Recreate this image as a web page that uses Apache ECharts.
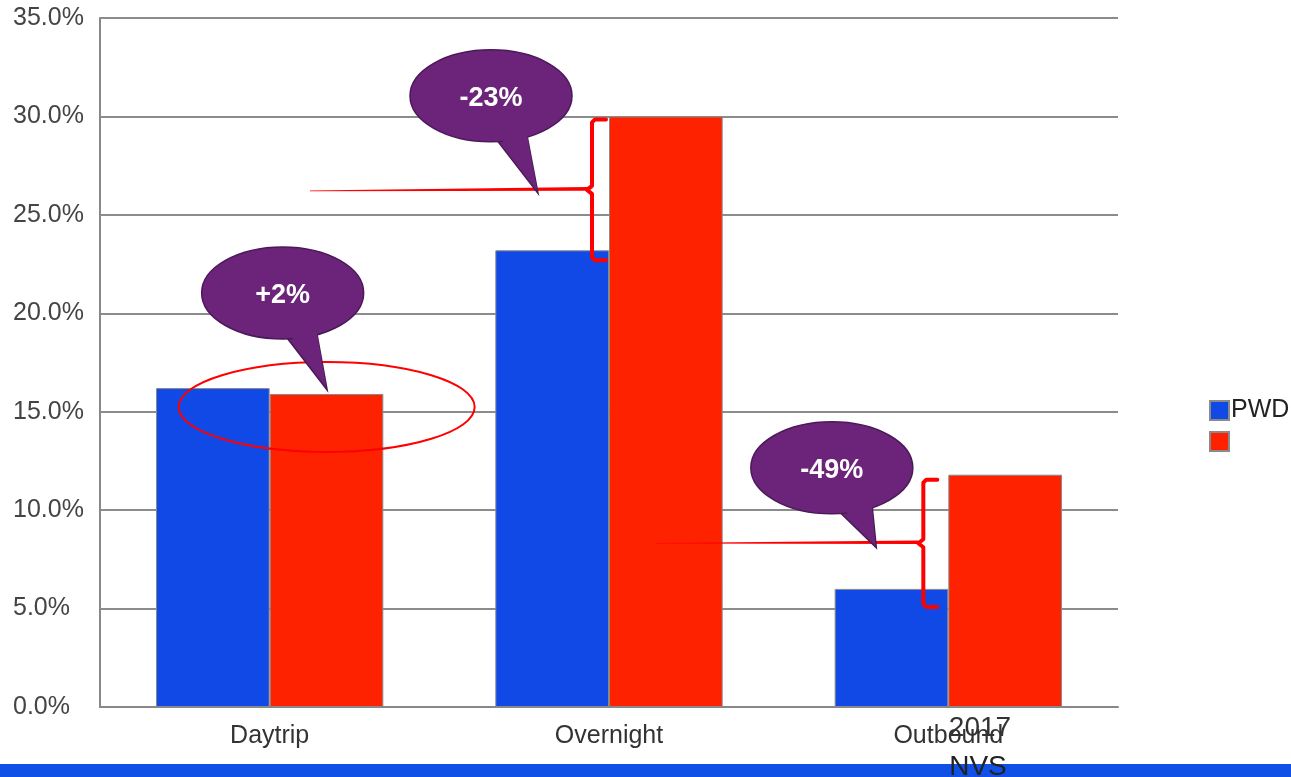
<!DOCTYPE html>
<html>
<head>
<meta charset="utf-8">
<script src="https://cdn.jsdelivr.net/npm/echarts@6/dist/echarts.min.js"></script>
<style>
html,body{margin:0;padding:0;background:#fff;}
#c{width:1291px;height:777px;}
</style>
</head>
<body>
<div id="c"></div>
<script>
var categories = ['Daytrip', 'Overnight', 'Outbound'];
var seriesNames = ['PWD', ' '];
var pwdValues = [16.2, 23.2, 6.0];
var nvsValues = [15.9, 30.0, 11.8];
var changeLabels = ['+2%', '-23%', '-49%'];
var yTicks = [0, 5, 10, 15, 20, 25, 30, 35];

var FONT = '"Liberation Sans", Arial, sans-serif';
var BLUE = '#1049e6';
var RED = '#ff2200';
var PURPLE = '#6b2479';
var PURPLE_DARK = '#4b1858';
var LINE_RED = '#ff0000';

var chart = echarts.init(document.getElementById('c'), null, {renderer: 'canvas'});

chart.setOption({
  animation: false,
  backgroundColor: '#ffffff',
  grid: {left: 100, right: 173, top: 18, bottom: 70, containLabel: false},
  legend: {
    orient: 'vertical',
    left: 1204,
    top: 393,
    itemWidth: 19,
    itemHeight: 19,
    itemGap: 6,
    icon: 'rect',
    data: seriesNames,
    textStyle: {fontFamily: FONT, fontSize: 25, color: '#222', padding: [0, 0, 0, -3]}
  },
  xAxis: {
    type: 'category',
    data: categories,
    axisLine: {show: true, lineStyle: {color: '#888', width: 2}},
    axisTick: {show: false},
    axisLabel: {fontFamily: FONT, fontSize: 25, color: '#333', margin: 17}
  },
  yAxis: {
    type: 'value',
    min: yTicks[0],
    max: yTicks[yTicks.length - 1],
    interval: 5,
    axisLine: {show: true, lineStyle: {color: '#888', width: 2}},
    axisTick: {show: false},
    splitLine: {show: true, lineStyle: {color: '#8c8c8c', width: 2}},
    axisLabel: {
      fontFamily: FONT, fontSize: 25, color: '#444', margin: 87, align: 'left',
      padding: [4, 0, 0, 0],
      formatter: function (v) { return v.toFixed(1) + '%'; }
    }
  },
  series: [
    {
      name: seriesNames[0], type: 'bar', data: pwdValues,
      barGap: '0%', barCategoryGap: '33%',
      itemStyle: {color: BLUE, borderColor: '#8a8a8a', borderWidth: 1}
    },
    {
      name: seriesNames[1], type: 'bar', data: nvsValues,
      barGap: '0%', barCategoryGap: '33%',
      itemStyle: {color: RED, borderColor: '#8a8a8a', borderWidth: 1}
    }
  ]
});

function px(i, v) { return chart.convertToPixel({gridIndex: 0}, [i, v]); }

function bubble(cx, cy, text, base1, base2, tip) {
  var tail = [[cx + base1[0], cy + base1[1]], [cx + base2[0], cy + base2[1]], [cx + tip[0], cy + tip[1]]];
  return [
    {type: 'polygon', z: 100, shape: {points: tail}, style: {fill: PURPLE, stroke: PURPLE_DARK, lineWidth: 1.5}},
    {type: 'ellipse', z: 101, shape: {cx: cx, cy: cy, rx: 81, ry: 46}, style: {fill: PURPLE, stroke: PURPLE_DARK, lineWidth: 1.5}},
    {type: 'polygon', z: 102, shape: {points: [[tail[0][0] + 1, tail[0][1] - 6], [tail[1][0] - 1, tail[1][1] - 6], [tail[2][0] - 1, tail[2][1] - 4]]}, style: {fill: PURPLE}},
    {type: 'text', z: 103, style: {text: text, x: cx, y: cy + 3, align: 'center', verticalAlign: 'middle', fill: '#ffffff', font: 'bold 27px ' + FONT}}
  ];
}

function taperLine(x0, y0, x1, y1) {
  return {type: 'polygon', z: 90, shape: {points: [[x0, y0 - 0.3], [x1, y1 - 1.8], [x1, y1 + 1.8], [x0, y0 + 0.3]]}, style: {fill: LINE_RED}};
}

function bracket(vx, top, bottom, capX, nubX) {
  var mid = (top + bottom) / 2;
  return {
    type: 'polyline', z: 95,
    shape: {points: [[capX, top], [vx + 3, top], [vx, top + 3], [vx, mid - 4], [nubX, mid], [vx, mid + 4], [vx, bottom - 3], [vx + 3, bottom], [capX, bottom]], smooth: 0},
    style: {stroke: LINE_RED, lineWidth: 4, fill: null, lineJoin: 'round', lineCap: 'round'}
  };
}

var g = [];

// Daytrip: +2% with red ellipse
var d = px(0, nvsValues[0]);
g.push({type: 'ellipse', z: 90, shape: {cx: d[0] + 57, cy: d[1] + 13, rx: 148, ry: 45}, style: {fill: null, stroke: LINE_RED, lineWidth: 2}});
g = g.concat(bubble(d[0] + 13, d[1] - 101, changeLabels[0], [4.5, 45], [34.5, 42], [44.5, 97]));

// Overnight: -23%
var oTop = px(1, nvsValues[1]);
var oBot = px(1, pwdValues[1]);
var ocx = oTop[0];
var oMid = (oTop[1] + 3 + oBot[1] + 10) / 2;
g.push(bracket(ocx - 17, oTop[1] + 3, oBot[1] + 10, ocx - 3, ocx - 22));
g.push(taperLine(ocx - 299, oMid + 1, ocx - 22, oMid - 1));
g = g.concat(bubble(ocx - 118, oMid - 94, changeLabels[1], [6, 44.5], [36, 39.5], [47, 97.5]));

// Outbound: -49%
var bTop = px(2, nvsValues[2]);
var bBot = px(2, pwdValues[2]);
var bcx = bTop[0];
var bMid = (bTop[1] + 5 + bBot[1] + 18) / 2;
g.push(bracket(bcx - 25, bTop[1] + 5, bBot[1] + 18, bcx - 11, bcx - 30));
g.push(taperLine(bcx - 293, bMid, bcx - 30, bMid - 1));
g = g.concat(bubble(bcx - 116.5, bMid - 75.5, changeLabels[2], [8.5, 45], [40.5, 40], [44.5, 80]));

// bottom band and stray legend text
g.push({type: 'rect', z: 50, shape: {x: 0, y: 764, width: 1291, height: 13}, style: {fill: '#1150e6'}});
g.push({type: 'text', z: 60, style: {text: '2017', x: 980, y: 728, align: 'center', verticalAlign: 'middle', fill: '#333', font: '28px ' + FONT}});
g.push({type: 'text', z: 60, style: {text: 'NVS', x: 978, y: 767, align: 'center', verticalAlign: 'middle', fill: '#222', font: '28px ' + FONT}});

chart.setOption({graphic: g});
</script>
</body>
</html>
